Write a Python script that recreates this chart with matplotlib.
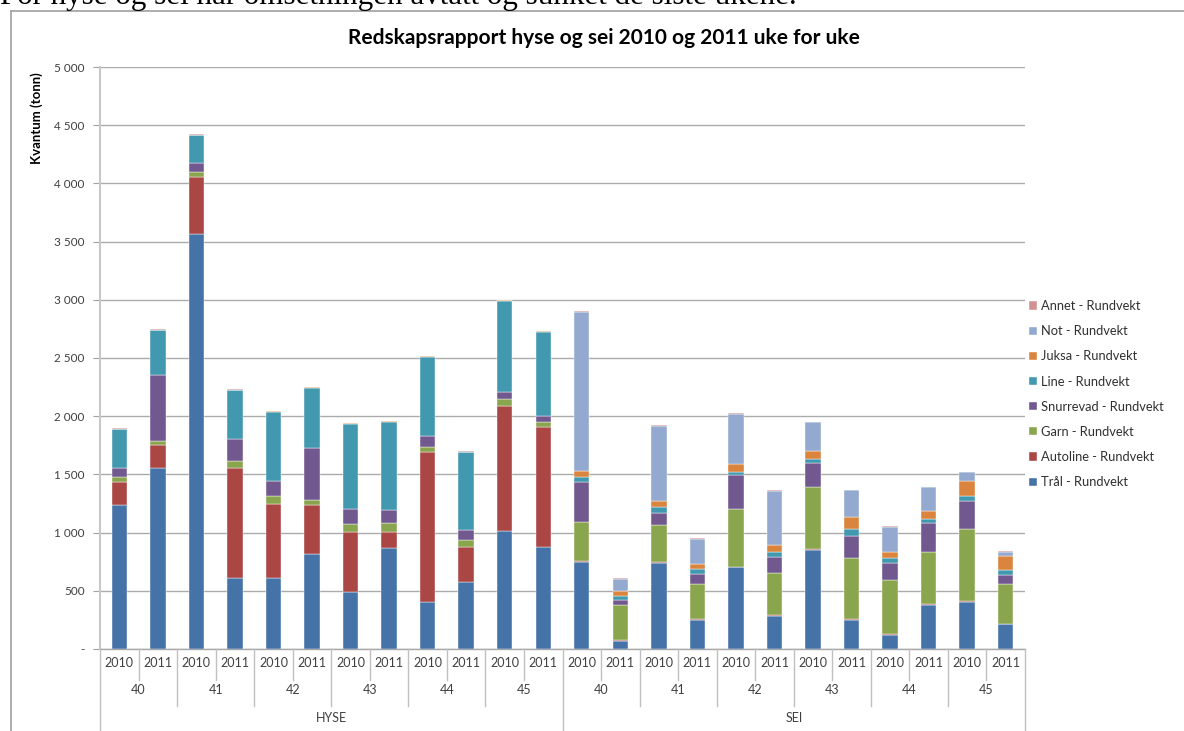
import matplotlib
matplotlib.use("Agg")
import matplotlib.pyplot as plt
import matplotlib.transforms as mtrans
from matplotlib.lines import Line2D
import numpy as np

# ---------------- data ----------------
groups = ["HYSE", "SEI"]
weeks = ["40", "41", "42", "43", "44", "45"]
years = ["2010", "2011"]

series_names = ["Trål - Rundvekt", "Autoline - Rundvekt", "Garn - Rundvekt",
                "Snurrevad - Rundvekt", "Line - Rundvekt", "Juksa - Rundvekt",
                "Not - Rundvekt", "Annet - Rundvekt"]
colors = ["#4572A7", "#AA4643", "#89A54E", "#71588F", "#4198AF", "#DB843D",
          "#93A9CF", "#D19392"]

# order: HYSE 40-2010, 40-2011, 41-2010, ... , SEI ..., 45-2011
tral = [1240, 1554, 3562, 614, 611, 816, 492, 869, 403, 575, 1014, 878,
        747, 66, 739, 250, 701, 285, 854, 253, 124, 382, 408, 213]
autoline = [193, 196, 493, 940, 638, 418, 511, 139, 1288, 303, 1077, 1029,
            5, 12, 8, 6, 3, 5, 2, 2, 2, 2, 2, 2]
garn = [44, 41, 41, 62, 68, 47, 74, 75, 47, 62, 59, 42,
        336, 296, 316, 299, 497, 360, 537, 529, 465, 446, 624, 345]
snurrevad = [77, 567, 83, 184, 130, 445, 127, 109, 89, 86, 54, 56,
             348, 51, 104, 92, 291, 137, 201, 186, 152, 255, 241, 80]
line = [335, 383, 234, 425, 591, 519, 730, 760, 682, 665, 786, 718,
        40, 29, 52, 43, 31, 44, 38, 58, 41, 32, 40, 40]
juksa = [5, 3, 6, 3, 7, 3, 5, 5, 6, 4, 6, 6,
         49, 40, 51, 43, 66, 66, 71, 106, 51, 72, 130, 115]
not_ = [0, 0, 0, 0, 0, 0, 0, 0, 0, 0, 0, 0,
        1368, 110, 647, 213, 431, 462, 245, 230, 213, 201, 72, 40]
annet = [4, 3, 3, 2, 2, 3, 4, 4, 6, 2, 6, 6,
         8, 5, 6, 5, 6, 6, 5, 3, 6, 6, 5, 6]

y_ticks = [0, 500, 1000, 1500, 2000, 2500, 3000, 3500, 4000, 4500, 5000]
y_ticklabels = ["-", "500", "1 000", "1 500", "2 000", "2 500",
                "3 000", "3 500", "4 000", "4 500", "5 000"]

title = "Redskapsrapport hyse og sei 2010 og 2011 uke for uke"
ylabel = "Kvantum (tonn)"
intro = "For hyse og sei har omsetningen avtatt og sunket de siste ukene."

# ---------------- figure ----------------
W, H = 1184, 731
fig = plt.figure(figsize=(W / 100, H / 100), dpi=100)
fig.patch.set_facecolor("white")
FONT = ["Lato", "DejaVu Sans"]

def fx(px):
    return px / W

def fy(py):
    return 1 - py / H

ax = fig.add_axes([fx(100), fy(649), fx(1025) - fx(100), fy(67) - fy(649)])

series = [tral, autoline, garn, snurrevad, line, juksa, not_, annet]
n = len(tral)
x = np.arange(n)
bottom = np.zeros(n)
handles = []
for vals, name, c in zip(series, series_names, colors):
    v = np.array(vals, dtype=float)
    b = ax.bar(x, v, width=0.40, bottom=bottom, color=c, label=name,
               edgecolor="white", linewidth=0.3, zorder=3)
    handles.append(b)
    bottom += v

ax.set_xlim(-0.5, n - 0.5)
ax.set_ylim(0, 5000)
ax.set_yticks(y_ticks)
ax.set_yticklabels(y_ticklabels, fontsize=8.5, color="#404040", family=FONT)
ax.tick_params(axis="y", direction="out", length=5, color="#A0A0A0", pad=6)
ax.set_xticks([])
ax.yaxis.grid(True, color="#ABABAB", linewidth=1.0, zorder=0)
ax.set_axisbelow(True)
for s in ["top", "right"]:
    ax.spines[s].set_visible(False)
ax.spines["left"].set_color("#C8C8C8")
ax.spines["left"].set_linewidth(1.5)
ax.spines["bottom"].set_color("#A8A8A8")
ax.spines["bottom"].set_linewidth(1.0)

# ---------------- multi-level category axis ----------------
tr = mtrans.blended_transform_factory(ax.transData, fig.transFigure)
sep_col = "#C0C0C0"
for k in range(n + 1):
    xb = k - 0.5
    if k % 12 == 0:
        y1 = 740
    elif k % 2 == 0:
        y1 = 706
    else:
        y1 = 680
    fig.add_artist(Line2D([xb, xb], [fy(649), fy(y1)], transform=tr,
                          color=sep_col, linewidth=1.0, clip_on=False))
for k in range(n):
    fig.text(k, fy(663), years[k % 2], transform=tr, ha="center", va="center",
             fontsize=9, color="#404040", family=FONT)
for g in range(len(groups)):
    for w in range(len(weeks)):
        k = g * 12 + w * 2
        fig.text(k + 0.5, fy(690), weeks[w], transform=tr, ha="center",
                 va="center", fontsize=9, color="#404040", family=FONT)
    fig.text(g * 12 + 5.5, fy(718), groups[g], transform=tr, ha="center",
             va="center", fontsize=9, color="#404040", family=FONT)

# ---------------- texts ----------------
fig.text(fx(604), fy(38), title, ha="center", va="center", fontsize=15,
         fontweight="bold", family=FONT, color="black")
fig.text(fx(37), fy(118), ylabel, rotation=90, ha="center", va="center",
         fontsize=9.5, fontweight="bold", family=FONT, color="black")

t = fig.text(0, fy(4), intro, ha="left", va="baseline", fontsize=20,
             family=["Liberation Serif", "DejaVu Serif"], color="black")
fig.canvas.draw()
bb = t.get_window_extent()
t.set_fontsize(20 * 795 / bb.width)

# outer chart frame
fig.add_artist(Line2D([fx(11), 1.01], [fy(11), fy(11)], transform=fig.transFigure,
                      color="#A0A0A0", linewidth=1.2))
fig.add_artist(Line2D([fx(11), fx(11)], [fy(11), -0.01], transform=fig.transFigure,
                      color="#A0A0A0", linewidth=1.2))

# legend
leg = fig.legend(handles[::-1], series_names[::-1], loc="upper left",
                 bbox_to_anchor=(fx(1029), fy(300)), frameon=False,
                 prop={"family": FONT, "size": 9.3}, handlelength=0.6,
                 handleheight=0.6, handletextpad=0.35, labelspacing=1.02,
                 borderaxespad=0, borderpad=0)
for txt in leg.get_texts():
    txt.set_color("#303030")

fig.savefig("out.png", dpi=100, facecolor="white")
